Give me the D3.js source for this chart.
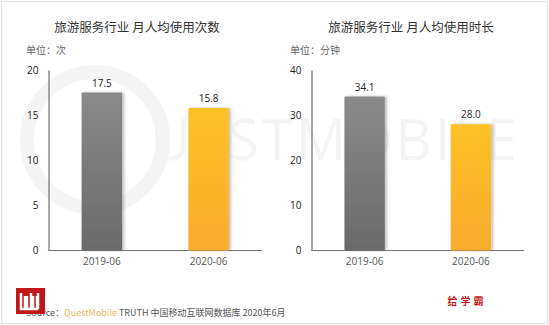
<!DOCTYPE html>
<html><head><meta charset="utf-8">
<script src="https://cdn.jsdelivr.net/npm/d3@7"></script>
<style>body{margin:0;background:#fff;font-family:"Noto Sans CJK SC","Open Sans",sans-serif;}</style>
</head><body><svg id="c" width="549" height="325"></svg>
<script>
const categories = ["2019-06", "2020-06"];
const timesValues = [17.5, 15.8];
const durationValues = [34.1, 28.0];
const timesTicks = [0, 5, 10, 15, 20];
const durationTicks = [0, 10, 20, 30, 40];
const titles = ["旅游服务行业 月人均使用次数", "旅游服务行业 月人均使用时长"];
const units = ["单位：次", "单位：分钟"];

const svg = d3.select("#c");
const defs = svg.append("defs");
const g1 = defs.append("linearGradient").attr("id","gGray").attr("x1",0).attr("y1",0).attr("x2",0).attr("y2",1);
g1.append("stop").attr("offset","0%").attr("stop-color","#8a8a8a");
g1.append("stop").attr("offset","100%").attr("stop-color","#6a6a6a");
const g2 = defs.append("linearGradient").attr("id","gOrange").attr("x1",0).attr("y1",0).attr("x2",0).attr("y2",1);
g2.append("stop").attr("offset","0%").attr("stop-color","#fdc126");
g2.append("stop").attr("offset","100%").attr("stop-color","#f7ac2f");
const sh = defs.append("filter").attr("id","sh").attr("x","-20%").attr("y","-20%").attr("width","150%").attr("height","150%");
sh.append("feDropShadow").attr("dx",2).attr("dy",0).attr("stdDeviation",1.5).attr("flood-color","#000").attr("flood-opacity",0.25);

// outer border
svg.append("rect").attr("x",1.5).attr("y",1.5).attr("width",546).attr("height",322).attr("fill","none").attr("stroke","#e3e3e3");

// watermark
svg.append("circle").attr("cx",95).attr("cy",140).attr("r",68).attr("fill","none").attr("stroke","#f5f5f5").attr("stroke-width",14);
svg.append("text").attr("x",335).attr("y",160).attr("text-anchor","middle").attr("font-size",56).attr("font-family","Open Sans, sans-serif")
  .attr("fill","#f4f4f4").attr("letter-spacing",3).text("UESTMOBILE");

const fills = ["url(#gGray)","url(#gOrange)"];

function panel(cfg){
  const y = d3.scaleLinear().domain([0, cfg.max]).range([250.5, 70]);
  const x = d3.scaleBand().domain(categories).range([cfg.x0, cfg.x1]).paddingInner(0.62).paddingOuter(0.31);
  svg.append("text").attr("x",cfg.tx).attr("y",32).attr("text-anchor","middle").attr("font-size",12.5).attr("fill","#333").text(cfg.title);
  svg.append("text").attr("x",cfg.ux).attr("y",54).attr("font-size",10).attr("fill","#666").text(cfg.unit);
  const ya = svg.append("g").attr("transform",`translate(${cfg.x0},0)`)
    .call(d3.axisLeft(y).tickValues(cfg.ticks).tickSize(0).tickPadding(10).tickFormat(d3.format("d")));
  ya.select(".domain").attr("stroke","#555");
  ya.selectAll("text").attr("font-size",10).attr("fill","#222").attr("font-family","Open Sans, sans-serif");
  const xa = svg.append("g").attr("transform",`translate(0,${y(0)})`)
    .call(d3.axisBottom(x).tickSize(0).tickPadding(7));
  xa.select(".domain").attr("stroke","#777").attr("d",`M${cfg.x0},0H${cfg.x1}`);
  xa.selectAll("text").attr("font-size",10).attr("fill","#555").attr("font-family","Open Sans, sans-serif");
  svg.append("g").selectAll("rect").data(cfg.values).join("rect")
    .attr("x",(d,i)=>x(categories[i])).attr("y",d=>y(d)).attr("width",x.bandwidth()).attr("height",d=>y(0)-y(d))
    .attr("fill",(d,i)=>fills[i]).attr("rx",1).attr("filter","url(#sh)");
  svg.append("g").selectAll("text").data(cfg.values).join("text")
    .attr("x",(d,i)=>x(categories[i])+x.bandwidth()/2).attr("y",d=>y(d)-6).attr("text-anchor","middle")
    .attr("font-size",10).attr("fill","#222").attr("font-family","Open Sans, sans-serif").text(d=>d.toFixed(1));
}
panel({x0:48.5,x1:262,max:20,ticks:timesTicks,values:timesValues,title:titles[0],unit:units[0],tx:137,ux:26});
panel({x0:311.5,x1:524,max:40,ticks:durationTicks,values:durationValues,title:titles[1],unit:units[1],tx:411,ux:290});

// source line
const src = svg.append("text").attr("x",26).attr("y",316).attr("font-size",9).attr("fill","#555");
src.append("tspan").text("Source：");
src.append("tspan").attr("fill","#e0b860").text("QuestMobile");
src.append("tspan").text(" TRUTH 中国移动互联网数据库 2020年6月");

// logo
svg.append("rect").attr("x",16).attr("y",288).attr("width",29).attr("height",26).attr("fill","#c0171b");
svg.append("path").attr("d","M21,293 v16 h4 v-13 M27,296 v13 h4 v-16 M33,296 v13 h4 v-13 M38,293 v16").attr("fill","none").attr("stroke","#fff").attr("stroke-width",2.5);
svg.append("text").attr("x",467).attr("y",305).attr("text-anchor","middle").attr("font-size",10).attr("font-weight","bold").attr("fill","#c0171b").attr("letter-spacing",3).text("给学霸");
</script></body></html>
